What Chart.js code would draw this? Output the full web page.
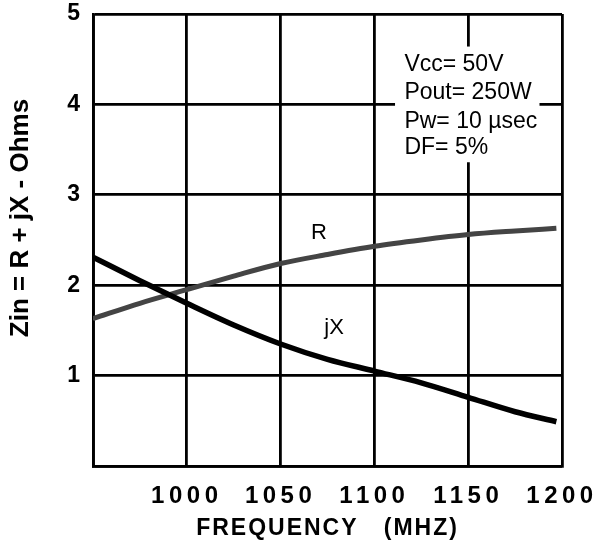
<!DOCTYPE html>
<html>
<head>
<meta charset="utf-8">
<script src="https://cdn.jsdelivr.net/npm/chart.js@4.4.0/dist/chart.umd.min.js"></script>
<style>
  html, body { margin: 0; padding: 0; background: #fff; }
  canvas { display: block; }
</style>
</head>
<body>
<canvas id="chart" width="596" height="554"></canvas>
<script>
// values
const freq = [950, 975, 1000, 1025, 1050, 1075, 1100, 1125, 1150, 1175, 1197];
const rValues = [1.63, 1.80, 1.95, 2.10, 2.24, 2.34, 2.43, 2.50, 2.56, 2.60, 2.63];
const jxValues = [2.31, 2.05, 1.80, 1.56, 1.35, 1.18, 1.05, 0.92, 0.76, 0.60, 0.49];
const xTickLabels = ['1000', '1050', '1100', '1150', '1200'];
const yTickLabels = ['1', '2', '3', '4', '5'];
const notes = ['Vcc= 50V', 'Pout= 250W', 'Pw= 10 \u00b5sec', 'DF= 5%'];

const FONT = "'Liberation Sans', Arial, Helvetica, sans-serif";

function pts(ys) {
  return freq.map((f, i) => ({ x: f, y: ys[i] }));
}

// small helper to wrap a scale draw method once
function wrapOnce(scale, name, before) {
  const key = '_wrapped_' + name;
  if (scale[key]) return;
  scale[key] = true;
  const orig = scale[name].bind(scale);
  scale[name] = function (area) {
    const ctx = scale.ctx;
    ctx.save();
    before(ctx);
    orig(area);
    ctx.restore();
  };
}

const notesPlugin = {
  id: 'notes',
  beforeDatasetsDraw(chart) {
    const { ctx, scales: { x, y } } = chart;
    ctx.save();
    // white box that breaks the grid behind the text
    const x0 = x.getPixelForValue(1111), x1 = x.getPixelForValue(1188);
    const y0 = y.getPixelForValue(4.64), y1 = y.getPixelForValue(3.36);
    ctx.fillStyle = '#fff';
    ctx.fillRect(x0, y0, x1 - x0, y1 - y0);
    ctx.fillStyle = '#000';
    ctx.font = '23px ' + FONT;
    ctx.textBaseline = 'middle';
    ctx.textAlign = 'left';
    const ys = [4.44, 4.13, 3.81, 3.52];
    notes.forEach((t, i) => {
      ctx.fillText(t, x.getPixelForValue(1116), y.getPixelForValue(ys[i]));
    });
    ctx.restore();
  },
  afterDatasetsDraw(chart) {
    const { ctx, scales: { x, y } } = chart;
    ctx.save();
    ctx.fillStyle = '#000';
    ctx.font = '22px ' + FONT;
    ctx.textBaseline = 'middle';
    ctx.textAlign = 'center';
    ctx.fillText('R', x.getPixelForValue(1070.5), y.getPixelForValue(2.58));
    ctx.fillText('jX', x.getPixelForValue(1078.5), y.getPixelForValue(1.53));
    ctx.restore();
  }
};

new Chart(document.getElementById('chart'), {
  type: 'line',
  data: {
    datasets: [
      {
        label: 'jX',
        data: pts(jxValues),
        borderColor: '#000',
        borderWidth: 5.5,
        pointRadius: 0,
        tension: 0.4,
        cubicInterpolationMode: 'monotone'
      },
      {
        label: 'R',
        data: pts(rValues),
        borderColor: '#444',
        borderWidth: 5,
        pointRadius: 0,
        tension: 0.4,
        cubicInterpolationMode: 'monotone'
      },
      {
        label: 'R fill',
        data: pts(rValues),
        borderColor: '#fff',
        borderWidth: 2,
        borderDash: [2, 1.5],
        pointRadius: 0,
        tension: 0.4,
        cubicInterpolationMode: 'monotone'
      }
    ]
  },
  options: {
    responsive: false,
    animation: false,
    layout: { padding: { left: 0, top: 14, right: 34, bottom: 0 } },
    plugins: {
      legend: { display: false },
      tooltip: { enabled: false }
    },
    scales: {
      x: {
        type: 'linear',
        min: 950,
        max: 1200,
        grid: { color: '#000', lineWidth: 2.8, drawTicks: false },
        border: { color: '#000', width: 2.8 },
        ticks: {
          stepSize: 50,
          padding: 16,
          color: '#000',
          font: { family: FONT, size: 24, weight: 'bold' },
          maxRotation: 0,
          callback: (v) => xTickLabels.includes(String(v)) ? String(v) : ''
        },
        title: {
          display: true,
          text: 'FREQUENCY   (MHZ)',
          color: '#000',
          font: { family: FONT, size: 23, weight: 'bold' },
          padding: { top: 0, bottom: 12 }
        },
        afterFit(scale) {
          scale.height = 88;
          scale.paddingLeft = 0;
          scale.paddingRight = 0;
          wrapOnce(scale, 'drawLabels', (ctx) => { ctx.letterSpacing = '4.5px'; });
          wrapOnce(scale, 'drawTitle', (ctx) => { ctx.letterSpacing = '2px'; });
        }
      },
      y: {
        min: 0,
        max: 5,
        grid: { color: '#000', lineWidth: 2.8, drawTicks: false },
        border: { color: '#000', width: 2.8 },
        ticks: {
          stepSize: 1,
          padding: 13,
          color: '#000',
          font: { family: FONT, size: 23, weight: 'bold' },
          callback: (v) => yTickLabels.includes(String(v)) ? String(v) : ''
        },
        title: {
          display: true,
          text: 'Zin = R + jX - Ohms',
          color: '#000',
          font: { family: FONT, size: 26, weight: 'bold' },
          padding: { top: 5, bottom: 0 }
        },
        afterFit(scale) {
          scale.width = 93;
          scale.paddingTop = 0;
          scale.paddingBottom = 0;
          wrapOnce(scale, 'drawTitle', (ctx) => { ctx.translate(0, -22); });
        }
      }
    }
  },
  plugins: [notesPlugin]
});
</script>
</body>
</html>
